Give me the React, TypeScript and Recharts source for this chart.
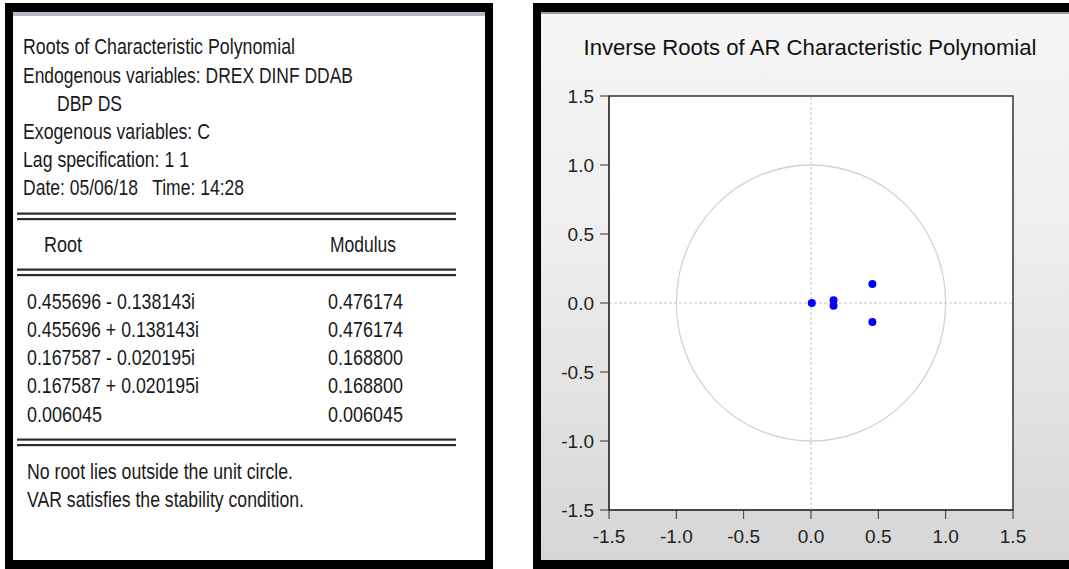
import React from 'react';
import { ScatterChart, Scatter, XAxis, YAxis, ReferenceLine, ReferenceArea, CartesianGrid } from 'recharts';

// ---- data ----
const axisTicks = [-1.5, -1.0, -0.5, 0, 0.5, 1.0, 1.5];
const rootReal = [0.455696, 0.455696, 0.167587, 0.167587, 0.006045];
const rootImag = [-0.138143, 0.138143, -0.020195, 0.020195, 0];
const rootLabels = [
  '0.455696 - 0.138143i',
  '0.455696 + 0.138143i',
  '0.167587 - 0.020195i',
  '0.167587 + 0.020195i',
  '0.006045',
];
const modulusLabels = ['0.476174', '0.476174', '0.168800', '0.168800', '0.006045'];
const headerLines = [
  'Roots of Characteristic Polynomial',
  'Endogenous variables: DREX DINF DDAB',
  'DBP DS',
  'Exogenous variables: C',
  'Lag specification: 1 1',
  'Date: 05/06/18   Time: 14:28',
];
const footerLines = ['No root lies outside the unit circle.', 'VAR satisfies the stability condition.'];
const chartTitle = 'Inverse Roots of AR Characteristic Polynomial';

const points = rootReal.map((re, i) => ({ re, im: rootImag[i] }));

// ---- layout (presentation only) ----
const FONT = '"Liberation Sans", Arial, sans-serif';
const headerX = [23, 23, 57, 23, 23, 23];
const headerBase = [54, 82.5, 110.5, 138.5, 166.5, 194.5];
const headerW = [272, 330, 65, 187, 166, 221];
const rowBase = [308.5, 336.8, 365, 393.3, 421.7];
const rowW = [168, 172, 168, 172, 75];
const footerBase = [478.5, 506.7];
const footerW = [266, 277];

const DoubleLine = ({ y }: { y: number }) => (
  <g>
    <rect x={17} y={y} width={439} height={2.2} fill="#2b2b2b" />
    <rect x={17} y={y + 5.5} width={439} height={2.2} fill="#2b2b2b" />
  </g>
);

const Ellipse = (props: any) => {
  const { x, y, width, height } = props;
  return (
    <ellipse
      cx={x + width / 2}
      cy={y + height / 2}
      rx={width / 2}
      ry={height / 2}
      fill="none"
      stroke="#d2d2d2"
      strokeWidth={1.3}
    />
  );
};

const Dot = (props: any) => {
  const { cx, cy } = props;
  return <circle cx={cx} cy={cy} r={4} fill="#0000ff" />;
};

const fmt = (v: number) => v.toFixed(1);

export default function App() {
  return (
    <div style={{ position: 'absolute', left: 0, top: 0, width: 1069, height: 569, background: '#fff', overflow: 'hidden' }}>
      {/* Left panel: table */}
      <svg width={500} height={569} style={{ position: 'absolute', left: 0, top: 0 }}>
        <rect x={5} y={3} width={488} height={566} fill="#000" />
        <rect x={13} y={12} width={472} height={548} fill="#fff" />
        <rect x={13} y={12} width={472} height={4} fill="#b6bac6" />
        <g fontFamily={FONT} fontSize={22} fill="#1a1a1a" style={{ whiteSpace: 'pre' }}>
          {headerLines.map((t, i) => (
            <text key={t} x={headerX[i]} y={headerBase[i]} textLength={headerW[i]} lengthAdjust="spacingAndGlyphs" xmlSpace="preserve">
              {t}
            </text>
          ))}
          <text x={44} y={251.5} textLength={38} lengthAdjust="spacingAndGlyphs">Root</text>
          <text x={330} y={251.5} textLength={66} lengthAdjust="spacingAndGlyphs">Modulus</text>
          {rootLabels.map((t, i) => (
            <text key={t} x={27} y={rowBase[i]} textLength={rowW[i]} lengthAdjust="spacingAndGlyphs">
              {t}
            </text>
          ))}
          {modulusLabels.map((t, i) => (
            <text key={i} x={328} y={rowBase[i]} textLength={75} lengthAdjust="spacingAndGlyphs">
              {t}
            </text>
          ))}
          {footerLines.map((t, i) => (
            <text key={t} x={27} y={footerBase[i]} textLength={footerW[i]} lengthAdjust="spacingAndGlyphs">
              {t}
            </text>
          ))}
        </g>
        <DoubleLine y={212.5} />
        <DoubleLine y={268.5} />
        <DoubleLine y={438.5} />
      </svg>

      {/* Right panel frame */}
      <div style={{ position: 'absolute', left: 533, top: 3, width: 536, height: 566, background: '#000' }} />
      <div
        style={{
          position: 'absolute',
          left: 541,
          top: 12,
          width: 528,
          height: 548,
          background: 'linear-gradient(#f5f5f5 0%, #eeeeee 40%, #d6d6d6 100%)',
        }}
      />
      <div style={{ position: 'absolute', left: 541, top: 12, width: 528, height: 2, background: '#9a9a9a' }} />
      <svg width={528} height={80} style={{ position: 'absolute', left: 541, top: 12 }}>
        <text
          x={269}
          y={43}
          textAnchor="middle"
          fontFamily={FONT}
          fontSize={22}
          fill="#111"
          textLength={453}
          lengthAdjust="spacingAndGlyphs"
        >
          {chartTitle}
        </text>
      </svg>

      <div style={{ position: 'absolute', left: 541, top: 12 }}>
        <ScatterChart width={528} height={548} margin={{ top: 84, right: 56, bottom: 10, left: 0 }}>
          <CartesianGrid horizontal={false} vertical={false} fill="#ffffff" />
          <XAxis
            type="number"
            dataKey="re"
            domain={[-1.5, 1.5]}
            ticks={axisTicks}
            tickFormatter={fmt}
            allowDataOverflow
            height={40}
            tickSize={9}
            tickMargin={11}
            stroke="#333"
            tick={{ fill: '#222', fontSize: 19, fontFamily: FONT }}
          />
          <YAxis
            type="number"
            dataKey="im"
            domain={[-1.5, 1.5]}
            ticks={axisTicks}
            tickFormatter={fmt}
            allowDataOverflow
            width={68}
            tickSize={9}
            tickMargin={6}
            stroke="#333"
            tick={{ fill: '#222', fontSize: 19, fontFamily: FONT }}
          />
          <ReferenceArea x1={-1} x2={1} y1={-1} y2={1} shape={Ellipse} />
          <ReferenceLine x={0} stroke="#c4c4c4" strokeDasharray="3 2" />
          <ReferenceLine y={0} stroke="#c4c4c4" strokeDasharray="3 2" />
          <ReferenceArea x1={-1.5} x2={1.5} y1={-1.5} y2={1.5} fill="none" fillOpacity={0} stroke="#333" strokeWidth={1.5} />
          <Scatter data={points} shape={Dot} isAnimationActive={false} />
        </ScatterChart>
      </div>
    </div>
  );
}
